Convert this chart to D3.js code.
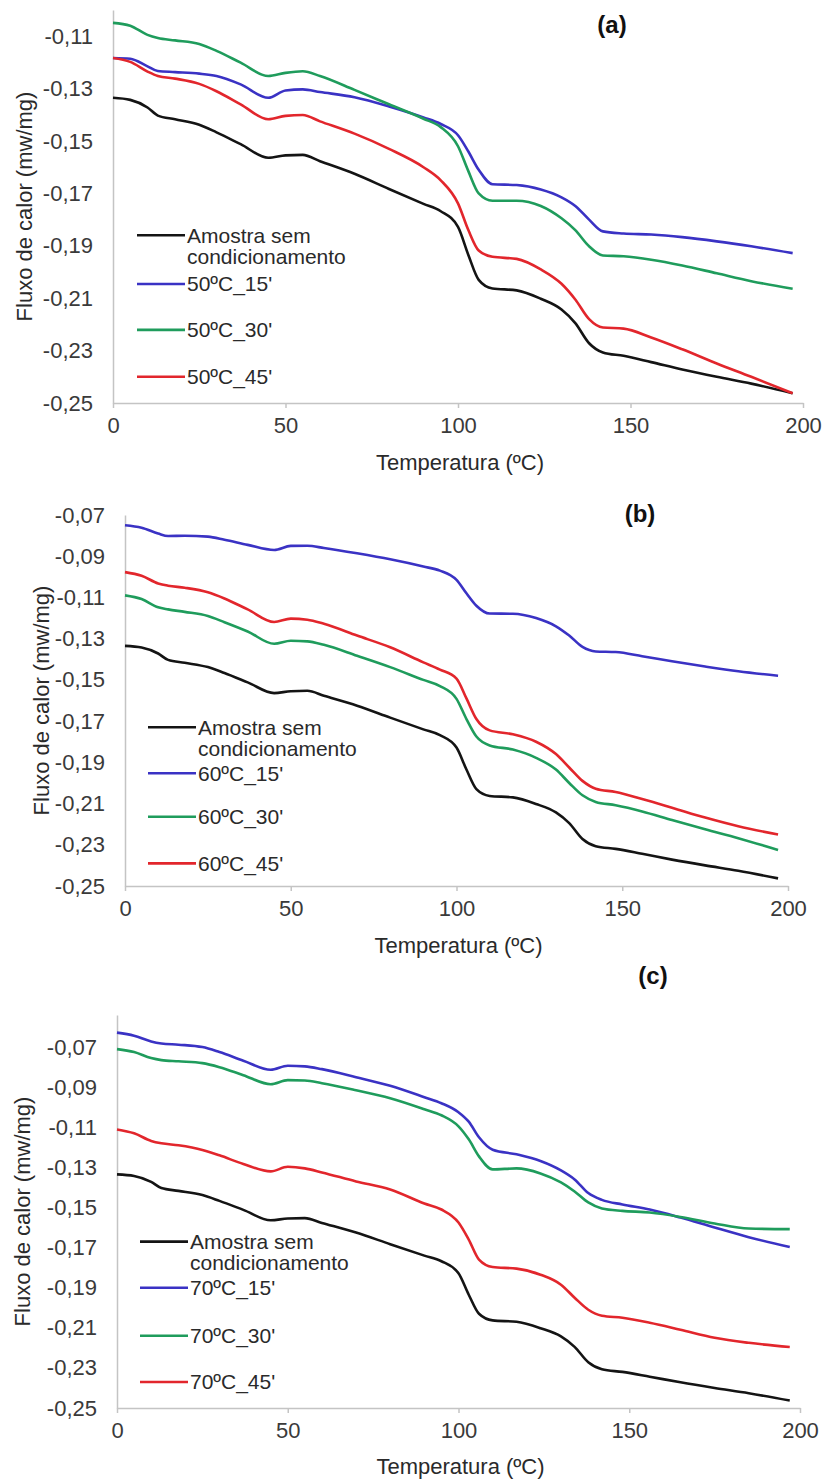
<!DOCTYPE html>
<html><head><meta charset="utf-8">
<script src="https://cdn.jsdelivr.net/npm/d3@7"></script>
<style>
body{margin:0;background:#fff;}
svg{display:block;}
text{font-family:"Liberation Sans",Arial,sans-serif;}
</style></head>
<body>
<svg id="chart" width="825" height="1482"></svg>
<script>
// ---------- DATA ----------
const temperatura = [0,5,10,13,18,25,30,37,45,50,55,60,70,80,90,95,100,103,106,110,117,124,130,134,138,142,148,156,165,175,185,197];

const amostraSemCondicionamento = [-0.1335,-0.1343,-0.1372,-0.1403,-0.1417,-0.1438,-0.1467,-0.1512,-0.1564,-0.1555,-0.1553,-0.1577,-0.1625,-0.1683,-0.1740,-0.1768,-0.1828,-0.1935,-0.2030,-0.2063,-0.2070,-0.2102,-0.2143,-0.2195,-0.2272,-0.2307,-0.2320,-0.2344,-0.2372,-0.2400,-0.2426,-0.2463];

const c50_15 = [-0.1183,-0.1186,-0.1215,-0.1233,-0.1237,-0.1243,-0.1252,-0.1284,-0.1335,-0.1307,-0.1303,-0.1313,-0.1333,-0.1368,-0.1410,-0.1435,-0.1478,-0.1540,-0.1610,-0.1665,-0.1668,-0.1685,-0.1715,-0.1748,-0.1800,-0.1845,-0.1853,-0.1857,-0.1867,-0.1883,-0.1902,-0.1928];
const c50_30 = [-0.1049,-0.1060,-0.1095,-0.1107,-0.1116,-0.1130,-0.1156,-0.1201,-0.1252,-0.1240,-0.1234,-0.1252,-0.1305,-0.1360,-0.1415,-0.1447,-0.1520,-0.1615,-0.1700,-0.1728,-0.1728,-0.1748,-0.1795,-0.1840,-0.1902,-0.1937,-0.1940,-0.1953,-0.1975,-0.2005,-0.2035,-0.2064];
const c50_45 = [-0.1183,-0.1198,-0.1235,-0.1252,-0.1262,-0.1282,-0.1310,-0.1360,-0.1417,-0.1404,-0.1401,-0.1425,-0.1472,-0.1530,-0.1600,-0.1650,-0.1738,-0.1840,-0.1918,-0.1942,-0.1950,-0.1990,-0.2045,-0.2105,-0.2180,-0.2212,-0.2216,-0.2250,-0.2295,-0.2349,-0.2400,-0.2463];

const c60_15 = [-0.0750,-0.0762,-0.0790,-0.0802,-0.0801,-0.0805,-0.0820,-0.0845,-0.0870,-0.0850,-0.0849,-0.0860,-0.0886,-0.0915,-0.0950,-0.0970,-0.1015,-0.1080,-0.1140,-0.1178,-0.1179,-0.1200,-0.1240,-0.1285,-0.1340,-0.1362,-0.1365,-0.1385,-0.1410,-0.1435,-0.1458,-0.1480];
const c60_30 = [-0.1090,-0.1108,-0.1148,-0.1158,-0.1170,-0.1190,-0.1220,-0.1265,-0.1325,-0.1310,-0.1313,-0.1330,-0.1383,-0.1438,-0.1500,-0.1530,-0.1592,-0.1690,-0.1775,-0.1818,-0.1838,-0.1878,-0.1935,-0.2000,-0.2060,-0.2092,-0.2108,-0.2138,-0.2180,-0.2225,-0.2268,-0.2325];
const c60_45 = [-0.0977,-0.0995,-0.1032,-0.1043,-0.1053,-0.1075,-0.1105,-0.1158,-0.1219,-0.1203,-0.1208,-0.1228,-0.1285,-0.1342,-0.1415,-0.1450,-0.1494,-0.1590,-0.1690,-0.1745,-0.1764,-0.1800,-0.1860,-0.1925,-0.1990,-0.2028,-0.2044,-0.2078,-0.2120,-0.2168,-0.2210,-0.2250];

const c70_15 = [-0.0628,-0.0643,-0.0672,-0.0682,-0.0688,-0.0700,-0.0725,-0.0768,-0.0813,-0.0793,-0.0796,-0.0810,-0.0850,-0.0893,-0.0950,-0.0980,-0.1025,-0.1072,-0.1150,-0.1212,-0.1235,-0.1268,-0.1315,-0.1360,-0.1428,-0.1462,-0.1485,-0.1510,-0.1550,-0.1600,-0.1648,-0.1697];
const c70_30 = [-0.0710,-0.0725,-0.0755,-0.0765,-0.0771,-0.0780,-0.0800,-0.0840,-0.0885,-0.0865,-0.0867,-0.0880,-0.0915,-0.0955,-0.1010,-0.1040,-0.1095,-0.1160,-0.1245,-0.1310,-0.1305,-0.1330,-0.1375,-0.1420,-0.1475,-0.1505,-0.1517,-0.1525,-0.1547,-0.1580,-0.1605,-0.1608];
const c70_45 = [-0.1111,-0.1130,-0.1168,-0.1180,-0.1190,-0.1213,-0.1240,-0.1283,-0.1320,-0.1297,-0.1305,-0.1325,-0.1370,-0.1410,-0.1480,-0.1510,-0.1575,-0.1660,-0.1760,-0.1797,-0.1805,-0.1835,-0.1885,-0.1950,-0.2010,-0.2040,-0.2050,-0.2075,-0.2110,-0.2150,-0.2175,-0.2196];

const xTicks = [0,50,100,150,200];
const yTicksA = [-0.25,-0.23,-0.21,-0.19,-0.17,-0.15,-0.13,-0.11];
const yTicksBC = [-0.25,-0.23,-0.21,-0.19,-0.17,-0.15,-0.13,-0.11,-0.09,-0.07];

const namesA = ["Amostra sem condicionamento","50ºC_15'","50ºC_30'","50ºC_45'"];
const namesB = ["Amostra sem condicionamento","60ºC_15'","60ºC_30'","60ºC_45'"];
const namesC = ["Amostra sem condicionamento","70ºC_15'","70ºC_30'","70ºC_45'"];
const colors = ["#141414","#3a32c4","#1f9c5c","#e2262c"];

// ---------- LAYOUT ----------
const FS = 22, LFS = 21;
const panels = [
  {tag:"(a)", names:namesA, series:[amostraSemCondicionamento,c50_15,c50_30,c50_45], yTicks:yTicksA,
   yDom:[-0.25,-0.10], x0:113, x1:803, yBot:403, yTop:10, tagX:612, tagY:25, yTitleX:24,
   xTitleY:462, legX:137, legV:[-0.186,-0.2046,-0.2221,-0.240]},
  {tag:"(b)", names:namesB, series:[amostraSemCondicionamento,c60_15,c60_30,c60_45], yTicks:yTicksBC,
   yDom:[-0.25,-0.07], x0:125, x1:788, yBot:886, yTop:515, tagX:640, tagY:514, yTitleX:41,
   xTitleY:945, legX:148, legV:[-0.173,-0.1953,-0.2164,-0.239]},
  {tag:"(c)", names:namesC, series:[amostraSemCondicionamento,c70_15,c70_30,c70_45], yTicks:yTicksBC,
   yDom:[-0.25,-0.054], x0:117, x1:800, yBot:1408, yTop:1015, tagX:653, tagY:976, yTitleX:22,
   xTitleY:1466, legX:140, legV:[-0.167,-0.190,-0.214,-0.237]}
];

const svg = d3.select("#chart");
const fmt = v => d3.format(".2f")(v).replace(".", ",").replace("−","-");

panels.forEach(p => {
  const x = d3.scaleLinear().domain([0,200]).range([p.x0, p.x1]);
  const y = d3.scaleLinear().domain(p.yDom).range([p.yBot, p.yTop]);
  const g = svg.append("g");

  // y axis
  const ya = g.append("g").attr("transform", `translate(${p.x0},0)`)
    .call(d3.axisLeft(y).tickValues(p.yTicks).tickSize(0).tickPadding(20).tickFormat(fmt));
  ya.select(".domain").attr("stroke","#c4c4c4").attr("stroke-width",1.5);
  ya.selectAll("text").attr("font-size",FS).attr("fill","#3a3a3a");

  // x axis
  const xa = g.append("g").attr("transform", `translate(0,${p.yBot})`)
    .call(d3.axisBottom(x).tickValues(xTicks).tickSize(5).tickSizeOuter(0).tickPadding(9).tickFormat(d3.format("d")));
  xa.select(".domain").attr("stroke","#c4c4c4").attr("stroke-width",1.5);
  xa.selectAll(".tick line").attr("stroke","#c4c4c4").attr("stroke-width",1.5);
  xa.selectAll("text").attr("font-size",FS).attr("fill","#3a3a3a");

  // lines
  const line = d3.line().x((d,i)=>x(temperatura[i])).y(d=>y(d)).curve(d3.curveMonotoneX);
  p.series.forEach((s,k) => {
    g.append("path").datum(s).attr("d", line).attr("fill","none")
      .attr("stroke", colors[k]).attr("stroke-width",2.6).attr("stroke-linejoin","round");
  });

  // legend
  p.names.forEach((n,k) => {
    const ly = y(p.legV[k]);
    g.append("line").attr("x1",p.legX).attr("x2",p.legX+48).attr("y1",ly).attr("y2",ly)
      .attr("stroke",colors[k]).attr("stroke-width",2.6);
    if (k===0) {
      g.append("text").attr("x",p.legX+50).attr("y",ly).attr("dy","0.35em")
        .attr("font-size",LFS).attr("fill","#2a2a2a").text("Amostra sem");
      g.append("text").attr("x",p.legX+50).attr("y",ly+21.5).attr("dy","0.35em")
        .attr("font-size",LFS).attr("fill","#2a2a2a").text("condicionamento");
    } else {
      g.append("text").attr("x",p.legX+50).attr("y",ly).attr("dy","0.35em")
        .attr("font-size",LFS).attr("fill","#2a2a2a").text(n);
    }
  });

  // titles
  g.append("text").attr("x",(p.x0+p.x1)/2+2).attr("y",p.xTitleY).attr("dy","0.35em")
    .attr("text-anchor","middle").attr("font-size",FS).attr("fill","#2a2a2a").text("Temperatura (ºC)");
  g.append("text").attr("transform",`translate(${p.yTitleX},${(p.yTop+p.yBot)/2}) rotate(-90)`)
    .attr("dy","0.35em").attr("text-anchor","middle").attr("font-size",FS).attr("fill","#2a2a2a")
    .text("Fluxo de calor (mw/mg)");
  g.append("text").attr("x",p.tagX).attr("y",p.tagY).attr("dy","0.35em").attr("text-anchor","middle")
    .attr("font-size",24).attr("font-weight","bold").attr("fill","#111").text(p.tag);
});
</script>
</body></html>
